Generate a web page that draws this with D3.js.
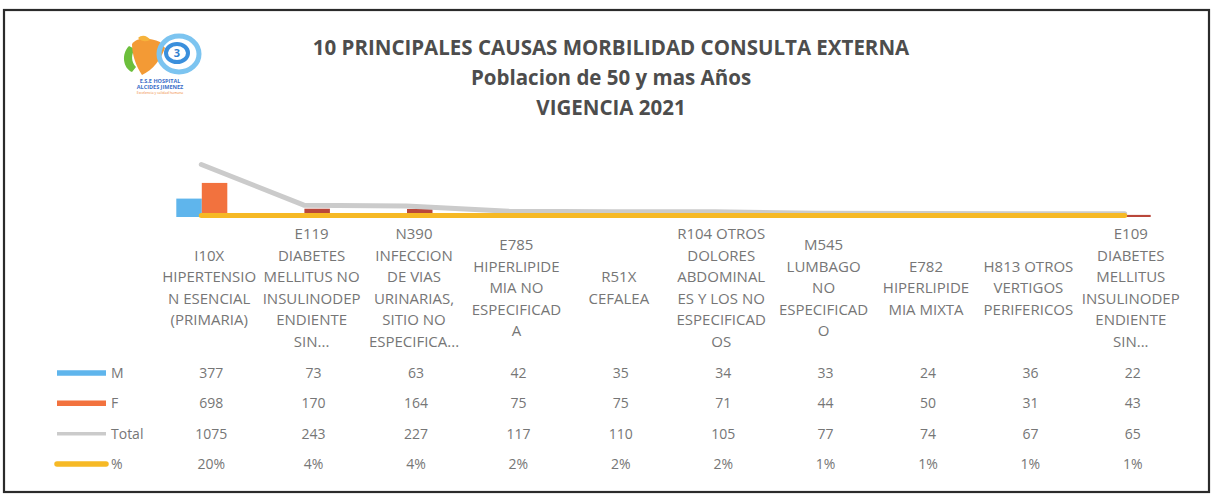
<!DOCTYPE html>
<html>
<head>
<meta charset="utf-8">
<script src="https://cdn.jsdelivr.net/npm/d3@7"></script>
<style>
  html, body { margin: 0; padding: 0; background: #fff; }
  svg { display: block; }
  text { font-family: "Open Sans", "DejaVu Sans", sans-serif; }
</style>
</head>
<body>
<div id="chart"></div>
<script>
// chart values
const titleLines = ['10 PRINCIPALES CAUSAS MORBILIDAD CONSULTA EXTERNA', 'Poblacion de 50 y mas Años', 'VIGENCIA 2021'];
const codes = ['I10X', 'E119', 'N390', 'E785', 'R51X', 'R104', 'M545', 'E782', 'H813', 'E109'];
const categoryLines = [
  ['I10X', 'HIPERTENSIO', 'N ESENCIAL', '(PRIMARIA)'],
  ['E119', 'DIABETES', 'MELLITUS NO', 'INSULINODEP', 'ENDIENTE', 'SIN...'],
  ['N390', 'INFECCION', 'DE VIAS', 'URINARIAS,', 'SITIO NO', 'ESPECIFICA...'],
  ['E785', 'HIPERLIPIDE', 'MIA NO', 'ESPECIFICAD', 'A'],
  ['R51X', 'CEFALEA'],
  ['R104 OTROS', 'DOLORES', 'ABDOMINAL', 'ES Y LOS NO', 'ESPECIFICAD', 'OS'],
  ['M545', 'LUMBAGO', 'NO', 'ESPECIFICAD', 'O'],
  ['E782', 'HIPERLIPIDE', 'MIA MIXTA'],
  ['H813 OTROS', 'VERTIGOS', 'PERIFERICOS'],
  ['E109', 'DIABETES', 'MELLITUS', 'INSULINODEP', 'ENDIENTE', 'SIN...']
];
const seriesM = [377, 73, 63, 42, 35, 34, 33, 24, 36, 22];
const seriesF = [698, 170, 164, 75, 75, 71, 44, 50, 31, 43];
const seriesTotal = [1075, 243, 227, 117, 110, 105, 77, 74, 67, 65];
const seriesPct = [0.20, 0.04, 0.04, 0.02, 0.02, 0.02, 0.01, 0.01, 0.01, 0.01];
const seriesNames = ['M', 'F', 'Total', '%'];

const width = 1215,
      height = 498;

const colors = { M: '#5fb5ec', F: '#f2723e', Total: '#cbcbcb', '%': '#f6b925' };

var svg = d3.select('#chart')
            .append('svg')
            .attr('width', width)
            .attr('height', height);

// outer frame
svg.append('rect')
   .attr('x', 4).attr('y', 10)
   .attr('width', 1205).attr('height', 482)
   .attr('fill', 'none')
   .attr('stroke', '#2b2b2b')
   .attr('stroke-width', 2.2);

// titles
svg.selectAll('.title')
   .data(titleLines)
   .enter()
   .append('text')
   .attr('class', 'title')
   .attr('x', 611)
   .attr('y', (d, i) => 55 + i * 30)
   .attr('text-anchor', 'middle')
   .style('font-size', '20.5px')
   .style('font-weight', 'bold')
   .style('fill', '#4d4d4d')
   .text(d => d);

// logo (simplified drawing)
var logo = svg.append('g').attr('transform', 'translate(120, 34)');
logo.append('path')
    .attr('d', 'M9,12 C1,20 3,34 12,38 L16,33 C11,28 11,20 15,15 Z')
    .attr('fill', '#6cbf3c');
logo.append('path')
    .attr('d', 'M12,10 C18,2 30,4 40,8 L45,14 C41,25 33,36 22,41 C16,32 12,21 12,10 Z')
    .attr('fill', '#f39a35');
logo.append('path')
    .attr('d', 'M18,4 C22,0 28,2 30,6 C26,8 22,8 18,4 Z')
    .attr('fill', '#f6b33b');
logo.append('ellipse')
    .attr('cx', 59).attr('cy', 20).attr('rx', 20).attr('ry', 18)
    .attr('fill', 'none').attr('stroke', '#7cc4f0').attr('stroke-width', 5);
logo.append('ellipse')
    .attr('cx', 57).attr('cy', 19).attr('rx', 11).attr('ry', 9)
    .attr('fill', 'none').attr('stroke', '#3a8fdc').attr('stroke-width', 4);
logo.append('text')
    .attr('x', 57).attr('y', 23)
    .attr('text-anchor', 'middle')
    .style('font-size', '11px').style('font-weight', 'bold').style('fill', '#2f7fd0')
    .text('3');
logo.append('text')
    .attr('x', 40).attr('y', 49)
    .attr('text-anchor', 'middle')
    .style('font-size', '5.5px').style('font-weight', 'bold').style('fill', '#3b6fc9')
    .text('E.S.E HOSPITAL');
logo.append('text')
    .attr('x', 40).attr('y', 55)
    .attr('text-anchor', 'middle')
    .style('font-size', '5.5px').style('font-weight', 'bold').style('fill', '#3b6fc9')
    .text('ALCIDES JIMENEZ');
logo.append('text')
    .attr('x', 40).attr('y', 60)
    .attr('text-anchor', 'middle')
    .style('font-size', '3.5px').style('fill', '#f08a3a')
    .text('Excelencia y calidad humana');

// scales: the table columns and the plot (slightly compressed in the scan)
var xTable = d3.scaleBand().domain(codes).range([158, 1182]);
var xPlot = d3.scaleBand().domain(codes).range([150, 1176]);
var xSeries = d3.scaleBand().domain(['M', 'F']).range([-25, 26]);
var y = d3.scaleLinear().domain([0, 1100]).range([217, 163.3]);

var plot = svg.append('g').attr('class', 'plot');

// columns M and F
var barData = [];
codes.forEach(function (c, i) {
  barData.push({ code: c, key: 'M', value: seriesM[i] });
  barData.push({ code: c, key: 'F', value: seriesF[i] });
});
plot.selectAll('rect.bar')
    .data(barData)
    .enter()
    .append('rect')
    .attr('class', 'bar')
    .attr('x', d => xPlot(d.code) + xPlot.bandwidth() / 2 + xSeries(d.key))
    .attr('width', xSeries.bandwidth())
    .attr('y', d => y(d.value))
    .attr('height', d => y(0) - y(d.value))
    .attr('fill', d => d.key === 'F' && d.code !== 'I10X' ? '#b9473a' : colors[d.key]);

// lines Total and %
var line = d3.line()
             .x((d, i) => xPlot(codes[i]) + xPlot.bandwidth() / 2)
             .y(d => y(d));

plot.append('path')
    .datum(seriesTotal)
    .attr('d', line)
    .attr('fill', 'none')
    .attr('stroke', colors.Total)
    .attr('stroke-width', 5)
    .attr('stroke-linecap', 'round')
    .attr('stroke-linejoin', 'round');

plot.append('path')
    .datum(seriesPct)
    .attr('d', line.y(d => y(d) - 1.5))
    .attr('fill', 'none')
    .attr('stroke', colors['%'])
    .attr('stroke-width', 5)
    .attr('stroke-linecap', 'round');

// category labels
var labels = svg.append('g').attr('class', 'labels');
categoryLines.forEach(function (lines, i) {
  var cx = xTable(codes[i]) + xTable.bandwidth() / 2;
  var lh = 21.5;
  var top = 288 - (lines.length - 1) * lh / 2;
  labels.append('text')
        .attr('text-anchor', 'middle')
        .style('font-size', '15px')
        .style('fill', '#767676')
        .selectAll('tspan')
        .data(lines)
        .enter()
        .append('tspan')
        .attr('x', cx)
        .attr('y', (d, j) => top + j * lh + 5)
        .text(d => d);
});

// data table
var rows = [seriesM, seriesF, seriesTotal, seriesPct];
var rowY = d3.scalePoint().domain(seriesNames).range([373, 464]);
var table = svg.append('g').attr('class', 'table');

seriesNames.forEach(function (name, r) {
  var yy = rowY(name);
  // legend key
  table.append('line')
       .attr('x1', 57).attr('x2', 106)
       .attr('y1', yy).attr('y2', yy)
       .attr('stroke', colors[name])
       .attr('stroke-width', name === 'Total' ? 3.5 : 5.5)
       .attr('stroke-linecap', name === '%' ? 'round' : 'butt');
  table.append('text')
       .attr('x', 111).attr('y', yy + 5)
       .style('font-size', '14px')
       .style('fill', '#767676')
       .text(name);
  table.selectAll('.v' + r)
       .data(rows[r])
       .enter()
       .append('text')
       .attr('x', (d, i) => xTable(codes[i]) + xTable.bandwidth() / 2 + 2)
       .attr('y', yy + 5)
       .attr('text-anchor', 'middle')
       .style('font-size', '14px')
       .style('fill', '#767676')
       .text(d => name === '%' ? d3.format('.0%')(d) : d);
});
</script>
</body>
</html>
